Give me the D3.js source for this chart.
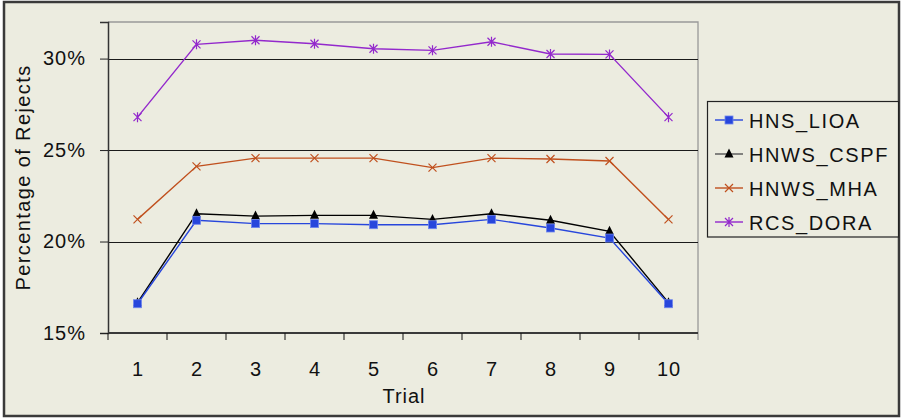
<!DOCTYPE html>
<html>
<head>
<meta charset="utf-8">
<script src="https://cdn.jsdelivr.net/npm/d3@7/dist/d3.min.js"></script>
<style>
  html, body { margin: 0; padding: 0; background: #ffffff; }
  svg { display: block; }
  text { font-family: "Liberation Sans", Arial, sans-serif; fill: #111; }
</style>
</head>
<body>
<svg id="chart" width="902" height="418"></svg>
<script>
// ---- Data ----
const trials = ["1","2","3","4","5","6","7","8","9","10"];
const yTicks = [15, 20, 25, 30];
const seriesNames = ["HNS_LIOA", "HNWS_CSPF", "HNWS_MHA", "RCS_DORA"];
const hnsLioa  = [16.6, 21.16, 20.98, 20.98, 20.92, 20.92, 21.21, 20.74, 20.19, 16.6];
const hnwsCspf = [16.66, 21.52, 21.39, 21.43, 21.43, 21.21, 21.52, 21.16, 20.56, 16.66];
const hnwsMha  = [21.21, 24.11, 24.56, 24.56, 24.56, 24.04, 24.56, 24.51, 24.40, 21.21];
const rcsDora  = [26.80, 30.78, 31.00, 30.81, 30.54, 30.45, 30.92, 30.25, 30.23, 26.80];

const seriesValues = [hnsLioa, hnwsCspf, hnwsMha, rcsDora];
const colors = ["#2746dc", "#000000", "#c0501e", "#9328cc"];
const markers = ["square", "triangle", "x", "star"];

// ---- Layout ----
const svg = d3.select("#chart");
const X0 = 108, X1 = 698, Y0 = 22, Y1 = 333;

svg.append("rect").attr("x", 4).attr("y", 2).attr("width", 895).attr("height", 414)
  .attr("fill", "#ececE0").attr("stroke", "#3a3a3a").attr("stroke-width", 2.5);

const x = d3.scaleBand().domain(trials).range([X0, X1]).padding(0);
const y = d3.scaleLinear().domain([15, 32]).range([Y1, Y0]);

// plot border top/right
svg.append("path")
  .attr("d", d3.line()([[X0, Y0], [X1, Y0], [X1, Y1 + 7]]))
  .attr("fill", "none").attr("stroke", "#999").attr("stroke-width", 1.3);

// gridlines
svg.append("g").selectAll("line").data(yTicks.filter(t => t > 15)).join("line")
  .attr("x1", X0).attr("x2", X1)
  .attr("y1", d => Math.round(y(d)) + 0.5).attr("y2", d => Math.round(y(d)) + 0.5)
  .attr("stroke", "#1a1a1a").attr("stroke-width", 1);

// y axis
const yAxis = svg.append("g").attr("transform", `translate(${X0},0)`)
  .call(d3.axisLeft(y).tickValues(yTicks).tickSize(8).tickPadding(14).tickFormat(d => d + "%"));
yAxis.select(".domain").attr("stroke", "#333").attr("stroke-width", 1.5);
yAxis.selectAll(".tick line").attr("stroke", "#222");
yAxis.selectAll(".tick text").attr("font-size", 20).attr("letter-spacing", 1)
  .attr("fill", "#111").style("font-family", "'Liberation Sans', Arial, sans-serif");

// x axis
const tickPositions = trials.map(t => x(t)).concat([X1]);
const xAxisG = svg.append("g");
xAxisG.append("line").attr("x1", X0).attr("x2", X1).attr("y1", Y1).attr("y2", Y1)
  .attr("stroke", "#3a3a3a").attr("stroke-width", 2);
xAxisG.selectAll("line.tk").data(tickPositions.slice(0, -1)).join("line").attr("class", "tk")
  .attr("x1", d => d).attr("x2", d => d).attr("y1", Y1).attr("y2", Y1 + 7)
  .attr("stroke", "#111").attr("stroke-width", 1);
xAxisG.selectAll("text").data(trials).join("text")
  .attr("x", d => x(d) + x.bandwidth() / 2 + 0.5).attr("y", 376)
  .attr("text-anchor", "middle").attr("font-size", 20).attr("letter-spacing", 1)
  .text(d => d);

// axis titles
svg.append("text").attr("x", 404).attr("y", 403).attr("text-anchor", "middle")
  .attr("font-size", 20).attr("letter-spacing", 1).text("Trial");
svg.append("text").attr("transform", `translate(30,${(Y0 + Y1) / 2}) rotate(-90)`)
  .attr("text-anchor", "middle").attr("font-size", 20).attr("letter-spacing", 1.4)
  .text("Percentage of Rejects");

// marker drawing
function drawMarker(g, type, color, cx, cy) {
  if (type === "square") {
    g.append("rect").attr("x", cx - 4).attr("y", cy - 4).attr("width", 8).attr("height", 8)
      .attr("fill", color).attr("stroke", "#6f86ee").attr("stroke-width", 0.8);
  } else if (type === "triangle") {
    g.append("path").attr("d", `M${cx},${cy - 5.5}L${cx + 4.5},${cy + 3.5}L${cx - 4.5},${cy + 3.5}Z`)
      .attr("fill", color);
  } else if (type === "x") {
    g.append("path").attr("d", `M${cx - 4},${cy - 4}L${cx + 4},${cy + 4}M${cx - 4},${cy + 4}L${cx + 4},${cy - 4}`)
      .attr("stroke", color).attr("stroke-width", 1.2).attr("fill", "none");
  } else if (type === "star") {
    g.append("path").attr("d", `M${cx - 4},${cy - 4}L${cx + 4},${cy + 4}M${cx - 4},${cy + 4}L${cx + 4},${cy - 4}M${cx},${cy - 5}L${cx},${cy + 5}`)
      .attr("stroke", color).attr("stroke-width", 1.2).attr("fill", "none");
  }
}

const line = d3.line().x((d, i) => x(trials[i]) + x.bandwidth() / 2).y(d => y(d));

// draw series (back to front so blue/black on top of each other properly)
const order = [3, 2, 1, 0];
order.forEach(si => {
  const g = svg.append("g");
  g.append("path").datum(seriesValues[si]).attr("d", line)
    .attr("fill", "none").attr("stroke", colors[si]).attr("stroke-width", 1.4);
  seriesValues[si].forEach((v, i) => {
    drawMarker(g, markers[si], colors[si], x(trials[i]) + x.bandwidth() / 2, y(v));
  });
});

// legend
const lg = svg.append("g");
lg.append("rect").attr("x", 707.5).attr("y", 101.5).attr("width", 191).attr("height", 135.5)
  .attr("fill", "#ececE0").attr("stroke", "#222").attr("stroke-width", 1.2);
seriesNames.forEach((name, i) => {
  const cy = 120 + i * 34;
  const lc = i === 1 ? "#555" : colors[i];
  lg.append("line").attr("x1", 715).attr("x2", 743).attr("y1", cy).attr("y2", cy)
    .attr("stroke", lc).attr("stroke-width", 1.4);
  drawMarker(lg, markers[i], colors[i], 729, cy);
  lg.append("text").attr("x", 749).attr("y", cy + 7.5).attr("font-size", 20)
    .attr("letter-spacing", 1.6).text(name);
});
</script>
</body>
</html>
